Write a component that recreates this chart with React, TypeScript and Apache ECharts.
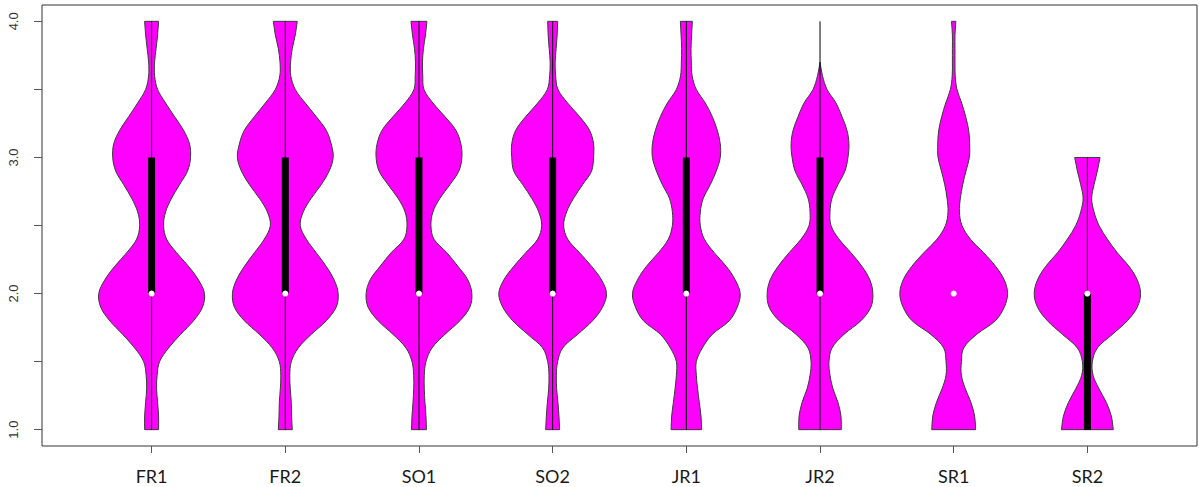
import React, { useEffect, useRef } from "react";
import * as echarts from "echarts";

const categories = ["FR1", "FR2", "SO1", "SO2", "JR1", "JR2", "SR1", "SR2"];
const yTickValues = [1, 1.5, 2, 2.5, 3, 3.5, 4];
const yLabelValues = [1, 2, 3, 4];

// Violin half-widths (density profile), sampled from y = 1.0 upward every 0.1.
const densityStart = 1.0;
const densityStep = 0.1;
const densFR1 = [7, 7, 6, 5, 5.5, 8, 17, 29, 42, 51, 53, 47, 37, 25, 15, 12, 14, 20, 28, 36, 39, 38, 32, 23, 14, 6, 3, 3, 4.5, 6, 7];
const densFR2 = [7, 6.3, 6, 5, 4.5, 6, 13, 26, 41, 51, 53, 49, 41, 31, 21, 15, 18, 26, 36, 44, 48, 46, 41, 31, 20, 10, 5.5, 5.3, 7, 10, 12];
const densSO1 = [7.5, 7, 6, 5.3, 5.3, 7, 13, 26, 41, 51, 53, 49, 39, 28, 15, 12, 14, 21, 31, 40, 43, 42, 37, 26, 14, 5, 3.8, 3.5, 4.5, 6.5, 8];
const densSO2 = [7, 6.3, 5.3, 4, 3.7, 5, 10, 25, 40, 50, 54, 49, 39, 27, 15, 11, 14, 21, 30, 39, 41, 41, 37, 27, 15, 5.3, 3, 2.5, 3.5, 4.5, 5];
const densJR1 = [15.3, 14.7, 13, 11.3, 10, 10, 16, 26, 43, 51, 54, 49, 40, 28, 18, 14, 14, 17, 24, 30, 34, 34, 31, 26, 19, 10, 5.8, 5, 4.7, 5.3, 6];
const densJR2 = [21.3, 21, 18, 13, 10, 9, 12, 24, 41, 51, 53, 50, 42, 31, 19, 11, 10, 12, 18, 25, 28, 29, 27, 22, 16, 7, 2.5, 0];
const densSR1 = [22, 21, 17.3, 11.7, 7.7, 7.7, 10, 23, 41.7, 50.7, 54, 50.7, 42, 30, 16.7, 8.3, 5.7, 6.7, 9, 12.3, 15.7, 16, 15, 12, 8, 3.3, 1.5, 1.3, 1.3, 1.3, 2.2];
const densSR2 = [26, 24, 19, 11.7, 5.7, 5, 10, 25, 40, 50, 53.3, 50, 41.7, 30, 20, 11.7, 6.7, 4.3, 6.7, 10, 12.7];
const densities = [densFR1, densFR2, densSO1, densSO2, densJR1, densJR2, densSR1, densSR2];
// density unit -> x-axis units (max half-width ~0.4 of category spacing)
const densityToAxis = 1 / 134;

// Box statistics
const medians = [2, 2, 2, 2, 2, 2, 2, 2];
const q1 = [2, 2, 2, 2, 2, 2, 2, 1];
const q3 = [3, 3, 3, 3, 3, 3, 2, 2];
const whiskerLow = [1, 1, 1, 1, 1, 1, 2, 1];
const whiskerHigh = [4, 4, 4, 4, 4, 4, 2, 3];

export default function App() {
  const ref = useRef<HTMLDivElement>(null);
  useEffect(() => {
    document.body.style.margin = "0";
    if (!ref.current) return;
    const chart = echarts.init(ref.current, null, { renderer: "svg" });
    const catIdx = categories.map((_, i) => i + 1);

    const renderItem = (params: any, api: any) => {
      const i = params.dataIndex;
      const cx = i + 1;
      const prof = densities[i];
      const left: number[][] = [];
      const right: number[][] = [];
      for (let k = 0; k < prof.length; k++) {
        const y = densityStart + k * densityStep;
        left.push(api.coord([cx - prof[k] * densityToAxis, y]));
        right.push(api.coord([cx + prof[k] * densityToAxis, y]));
      }
      const n = prof.length - 1;
      const pts: number[][] = [];
      pts.push(left[0]);
      for (let k = 0; k <= n; k++) pts.push(left[k]);
      pts.push(left[n]);
      pts.push(right[n]);
      for (let k = n; k >= 0; k--) pts.push(right[k]);
      pts.push(right[0]);

      const children: any[] = [
        {
          type: "polygon",
          shape: { points: pts, smooth: 0.35 },
          style: { fill: "#FF00FF", stroke: "#3a3a3a", lineWidth: 1 },
        },
      ];
      if (whiskerHigh[i] !== whiskerLow[i]) {
        const a = api.coord([cx, whiskerLow[i]]);
        const b = api.coord([cx, whiskerHigh[i]]);
        children.push({
          type: "line",
          shape: { x1: a[0], y1: a[1], x2: b[0], y2: b[1] },
          style: { stroke: "#000", lineWidth: 1 },
        });
      }
      if (q3[i] !== q1[i]) {
        const t = api.coord([cx, q3[i]]);
        const b = api.coord([cx, q1[i]]);
        children.push({
          type: "rect",
          shape: { x: t[0] - 3.5, y: t[1], width: 7, height: b[1] - t[1] },
          style: { fill: "#000" },
        });
      }
      const m = api.coord([cx, medians[i]]);
      children.push({
        type: "circle",
        shape: { cx: m[0], cy: m[1], r: 3 },
        style: { fill: "#fff" },
      });
      return { type: "group", children };
    };

    chart.setOption({
      animation: false,
      backgroundColor: "#fff",
      grid: {
        left: 42,
        top: 5,
        right: 2,
        bottom: 41,
        show: true,
        borderColor: "#333",
        borderWidth: 1,
        backgroundColor: "transparent",
      },
      xAxis: {
        type: "value",
        min: 0.18,
        max: 8.82,
        axisLine: { show: false },
        splitLine: { show: false },
        axisTick: {
          show: true,
          customValues: catIdx,
          length: 7,
          lineStyle: { color: "#555" },
        },
        axisLabel: {
          customValues: catIdx,
          formatter: (v: number) => categories[Math.round(v) - 1] ?? "",
          fontSize: 18,
          fontFamily: "Lato",
          color: "#1a1a1a",
          margin: 21,
        },
      },
      yAxis: {
        type: "value",
        min: 0.88,
        max: 4.12,
        axisLine: { show: false },
        splitLine: { show: false },
        axisTick: {
          show: true,
          customValues: yTickValues,
          length: 8,
          lineStyle: { color: "#555" },
        },
        axisLabel: {
          customValues: yLabelValues,
          formatter: (v: number) => v.toFixed(1),
          rotate: 90,
          fontSize: 13,
          fontFamily: "Liberation Sans",
          color: "#333",
          margin: 22,
        },
      },
      series: [
        {
          type: "custom",
          coordinateSystem: "cartesian2d",
          data: catIdx.map((x) => [x, 2]),
          encode: { x: 0, y: 1 },
          renderItem,
          clip: true,
        },
      ],
    });
    return () => chart.dispose();
  }, []);
  return <div ref={ref} style={{ width: 1199, height: 487 }} />;
}
